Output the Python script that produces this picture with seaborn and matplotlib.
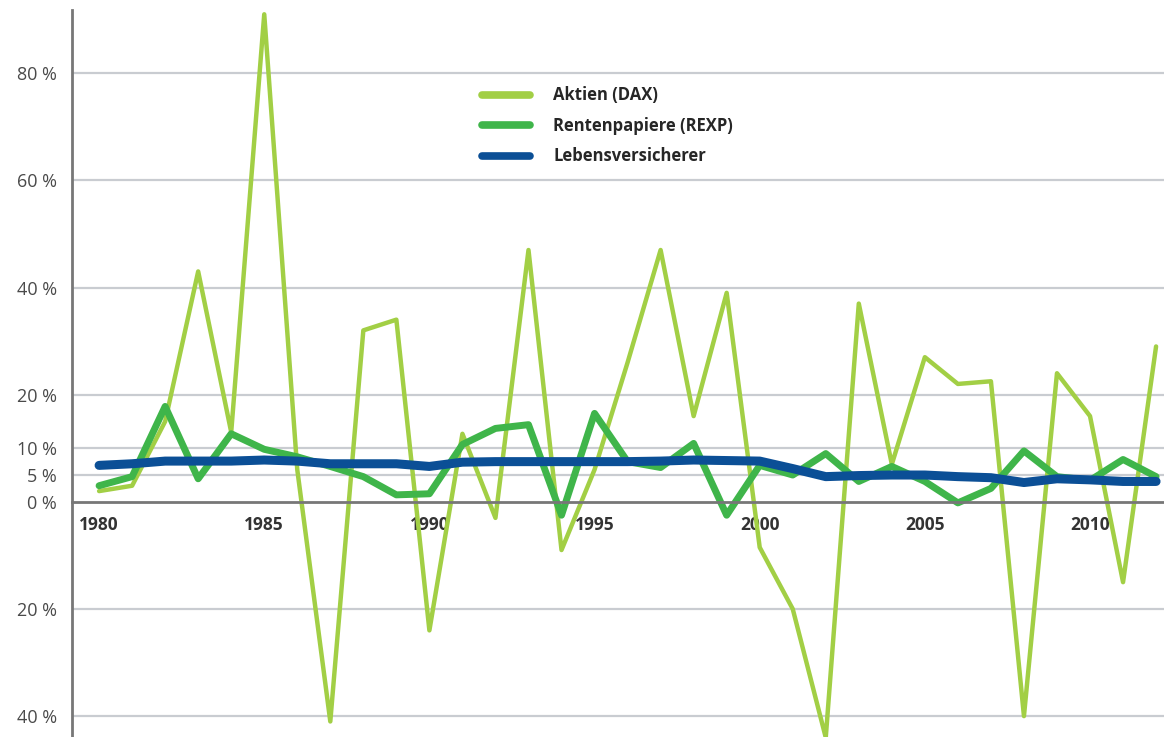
import numpy as np
import pandas as pd
import seaborn as sns
import matplotlib.pyplot as plt
from matplotlib.ticker import FixedLocator, FuncFormatter

years = list(range(1980, 2013))

# annual returns in percent
dax = [2, 3, 15, 43, 13, 91, 6, -41, 32, 34, -24, 12.7, -3, 47, -9, 6,
       26, 47, 16, 39, -8.5, -20, -44, 37, 7, 27, 22, 22.5, -40, 24, 16, -15, 29]
rexp = [3, 4.7, 17.8, 4.3, 12.7, 9.8, 8.4, 6.6, 4.7, 1.3, 1.5, 10.7, 13.7, 14.4, -2.5, 16.5,
        7.5, 6.4, 10.9, -2.5, 6.8, 5, 9, 3.8, 6.6, 3.8, -0.2, 2.5, 9.5, 4.7, 4, 7.9, 4.7]
leben = [6.8, 7.1, 7.6, 7.6, 7.6, 7.8, 7.6, 7.1, 7.1, 7.1, 6.6, 7.4, 7.5, 7.5, 7.5, 7.5,
         7.5, 7.6, 7.8, 7.7, 7.6, 6.2, 4.7, 4.9, 5, 5, 4.7, 4.5, 3.6, 4.3, 4.1, 3.8, 3.8]

labels = ['Aktien (DAX)', 'Rentenpapiere (REXP)', 'Lebensversicherer']
colors = ['#a2cf45', '#3fb54a', '#0b4f96']
widths = [3.2, 5.0, 6.5]
yticks = [80, 60, 40, 20, 10, 5, 0, -20, -40]

df = pd.DataFrame({'Jahr': years, labels[0]: dax, labels[1]: rexp, labels[2]: leben})

sns.set_style('white')
plt.rcParams['font.family'] = ['Open Sans', 'DejaVu Sans']

fig, ax = plt.subplots(figsize=(11.64, 7.37), dpi=100)
fig.subplots_adjust(left=72 / 1164, right=1.0, top=1 - 10 / 737, bottom=0.0)

for lab, col, lw in zip(labels, colors, widths):
    sns.lineplot(x='Jahr', y=lab, data=df, color=col, linewidth=lw, label=lab, ax=ax)

ax.set_xlim(1979.18, 2012.24)
ax.set_ylim(-43.9, 91.8)

# gridlines at the fixed ticks
for v in yticks:
    if v != 0:
        ax.axhline(v, color='#c9ccd1', linewidth=1.6, zorder=0)

ax.yaxis.set_major_locator(FixedLocator(yticks))
ax.yaxis.set_major_formatter(FuncFormatter(lambda v, p: f'{abs(int(v))} %'))
ax.tick_params(axis='y', direction='out', length=5, width=1.5, color='#c9ccd1',
               labelsize=13, labelcolor='#4a4a4a', pad=6)

ax.xaxis.set_major_locator(FixedLocator(years))
ax.xaxis.set_major_formatter(FuncFormatter(lambda v, p: str(int(v)) if int(v) % 5 == 0 else ''))
ax.tick_params(axis='x', direction='inout', length=10, width=1.2, color='#9a9a9a',
               labelsize=12.5, labelcolor='#333333', pad=5)

ax.spines['bottom'].set_position(('data', 0))
ax.spines['bottom'].set_color('#777777')
ax.spines['bottom'].set_linewidth(2)
ax.spines['left'].set_color('#777777')
ax.spines['left'].set_linewidth(2)
ax.spines['top'].set_visible(False)
ax.spines['right'].set_visible(False)

ax.set_xlabel('')
ax.set_ylabel('')

leg = ax.legend(loc='upper left', bbox_to_anchor=(0.375, 0.895), frameon=False,
                handlelength=2.9, handletextpad=1.4, labelspacing=0.75,
                borderpad=0, borderaxespad=0, prop={'size': 12, 'weight': 'bold'})
for h in leg.get_lines():
    h.set_linewidth(5.5)

fig.canvas.draw()
for t in ax.xaxis.get_majorticklabels():
    t.set_fontweight('bold')

plt.savefig('out.png', dpi=100)
